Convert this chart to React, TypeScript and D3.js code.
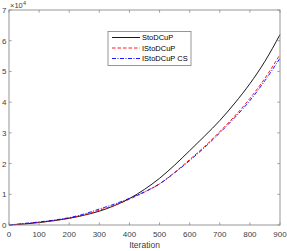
import React from "react";
import * as d3 from "d3";

const iterations = [0, 50, 100, 150, 200, 250, 300, 350, 400, 450, 500, 550, 600, 650, 700, 750, 800, 850, 900];
const stoDCuP = [0, 0.03, 0.08, 0.14, 0.22, 0.32, 0.45, 0.63, 0.86, 1.16, 1.52, 1.95, 2.42, 2.9, 3.4, 3.97, 4.6, 5.33, 6.2];
const iStoDCuP = [0, 0.04, 0.09, 0.15, 0.22, 0.33, 0.48, 0.64, 0.84, 1.07, 1.34, 1.71, 2.13, 2.56, 3.04, 3.55, 4.12, 4.78, 5.55];
const iStoDCuPCS = [0, 0.05, 0.1, 0.16, 0.24, 0.36, 0.52, 0.68, 0.87, 1.08, 1.34, 1.7, 2.1, 2.53, 3.0, 3.5, 4.05, 4.7, 5.43];
const xTicks = [0, 100, 200, 300, 400, 500, 600, 700, 800, 900];
const yTicks = [0, 1, 2, 3, 4, 5, 6, 7];
const seriesNames = ["StoDCuP", "IStoDCuP", "IStoDCuP CS"];

const W = 287, H = 251;
const L = 9, R = 280, T = 10, B = 225;
const font = "'Liberation Sans', Arial, Helvetica, sans-serif";

export default function App() {
  const x = d3.scaleLinear().domain([0, 900]).range([L, R]);
  const y = d3.scaleLinear().domain([0, 7]).range([B, T]);
  const line = d3.line<number>().x((_, i) => x(iterations[i])).y((d) => y(d)).curve(d3.curveMonotoneX);
  const series = [
    { name: seriesNames[0], data: stoDCuP, color: "#000000", dash: "none" },
    { name: seriesNames[1], data: iStoDCuP, color: "#ff0000", dash: "3.5,2" },
    { name: seriesNames[2], data: iStoDCuPCS, color: "#0000ff", dash: "4,1.5,1,1.5" },
  ];
  const axisColor = "#8c8c8c";
  const textColor = "#404040";
  const tl = 2.7;
  return (
    <svg width={W} height={H} style={{ position: "absolute", left: 0, top: 0, background: "#fff" }}>
      <rect x={0} y={0} width={W} height={H} fill="#fff" />
      {series.map((s) => (
        <path key={s.name} d={line(s.data) || ""} fill="none" stroke={s.color} strokeWidth={0.9} strokeDasharray={s.dash} />
      ))}
      <rect x={L} y={T} width={R - L} height={B - T} fill="none" stroke={axisColor} strokeWidth={0.9} />
      {xTicks.map((t) => (
        <g key={"x" + t}>
          <line x1={x(t)} x2={x(t)} y1={B} y2={B - tl} stroke={axisColor} strokeWidth={0.8} />
          <line x1={x(t)} x2={x(t)} y1={T} y2={T + tl} stroke={axisColor} strokeWidth={0.8} />
          <text x={x(t)} y={237} fontSize={8} fontFamily={font} fill={textColor} textAnchor="middle">{t}</text>
        </g>
      ))}
      {yTicks.map((t) => (
        <g key={"y" + t}>
          <line x1={L} x2={L + tl} y1={y(t)} y2={y(t)} stroke={axisColor} strokeWidth={0.8} />
          <line x1={R} x2={R - tl} y1={y(t)} y2={y(t)} stroke={axisColor} strokeWidth={0.8} />
          <text x={6.5} y={y(t) + 3} fontSize={8} fontFamily={font} fill={textColor} textAnchor="end">{t}</text>
        </g>
      ))}
      <text x={10} y={8} fontSize={7.5} fontFamily={font} fill={textColor}>×10</text>
      <text x={23} y={4.5} fontSize={5.5} fontFamily={font} fill={textColor}>4</text>
      <text x={(L + R) / 2} y={248} fontSize={8.5} fontFamily={font} fill={textColor} textAnchor="middle">Iteration</text>
      <rect x={108} y={31.5} width={83} height={34} fill="#fff" stroke={axisColor} strokeWidth={0.9} />
      {series.map((s, i) => {
        const yy = 37.5 + i * 10.5;
        return (
          <g key={"lg" + s.name}>
            <line x1={112} x2={140} y1={yy} y2={yy} stroke={s.color} strokeWidth={0.9} strokeDasharray={s.dash} />
            <text x={142} y={yy + 2.8} fontSize={7.5} fontFamily={font} fill="#000">{s.name}</text>
          </g>
        );
      })}
    </svg>
  );
}
